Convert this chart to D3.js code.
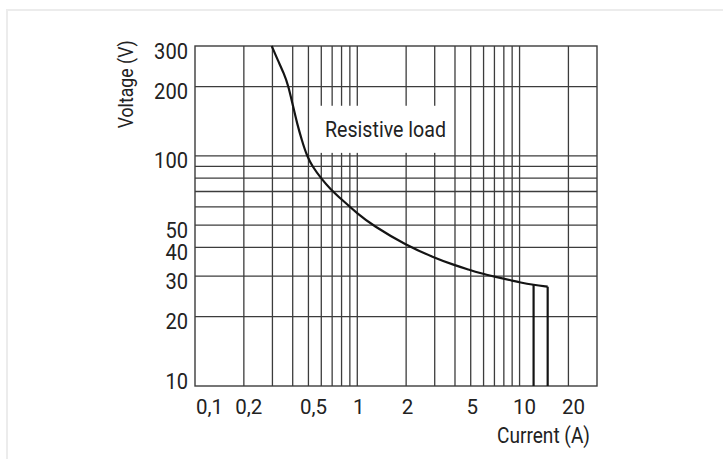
<!DOCTYPE html>
<html>
<head>
<meta charset="utf-8">
<script src="https://cdn.jsdelivr.net/npm/d3@7"></script>
<style>
  html, body { margin: 0; padding: 0; background: #fff; }
  svg { display: block; }
  text { font-family: Roboto, "Liberation Sans", sans-serif; fill: #222; }
</style>
</head>
<body>
<svg id="chart" width="723" height="459"></svg>
<script>
// ---- data ----
const curveCurrent = [0.297, 0.324, 0.353, 0.375, 0.403, 0.426, 0.455, 0.489, 0.53, 0.604, 0.676, 0.816, 1.0, 1.246, 2.0, 2.95, 3.97, 4.89, 5.63, 7.13, 9.01, 10.0, 12.2, 14.9];
const curveVoltage = [300, 260, 228, 203, 163, 138, 117, 100, 89.6, 79.2, 72.2, 63.8, 56.2, 49.8, 40.9, 36.2, 33.5, 32.0, 31.0, 29.8, 28.7, 28.2, 27.5, 27.0];
const dropIndex = [22, 23];              // curve points from which vertical limits drop to the axis
const xGridValues = [0.2, 0.3, 0.4, 0.5, 0.6, 0.7, 0.8, 0.9, 1, 2, 3, 4, 5, 6, 7, 8, 9, 10, 20];
const yGridValues = [20, 30, 40, 50, 60, 70, 80, 90, 100, 200];
const xTickValues = [0.1, 0.2, 0.5, 1, 2, 5, 10, 20];
const xTickLabels = ["0,1", "0,2", "0,5", "1", "2", "5", "10", "20"];
const yTickValues = [300, 200, 100, 50, 40, 30, 20, 10];
const yTickLabels = ["300", "200", "100", "50", "40", "30", "20", "10"];
const xDomain = [0.1, 30];
const yDomain = [10, 300];
const annotation = "Resistive load";
const xTitle = "Current (A)";
const yTitle = "Voltage (V)";

// ---- layout ----
const L = 195, R = 597, T = 46, B = 386;
const svg = d3.select("#chart");
const x = d3.scaleLog().domain(xDomain).range([L, R]);
const y = d3.scaleLog().domain(yDomain).range([B, T]);
const gridColor = "#3c3c3c";

// outer faint frame
svg.append("rect").attr("x", 7).attr("y", 10).attr("width", 740).attr("height", 470)
  .attr("fill", "none").attr("stroke", "#ececec").attr("stroke-width", 2);

// grid
const g = svg.append("g");
g.selectAll("line.vg").data(xGridValues).join("line")
  .attr("x1", d => x(d)).attr("x2", d => x(d)).attr("y1", T).attr("y2", B)
  .attr("stroke", gridColor).attr("stroke-width", 1.3);
g.selectAll("line.hg").data(yGridValues).join("line")
  .attr("y1", d => y(d)).attr("y2", d => y(d)).attr("x1", L).attr("x2", R)
  .attr("stroke", gridColor).attr("stroke-width", 1.3);
g.append("rect").attr("x", L).attr("y", T).attr("width", R - L).attr("height", B - T)
  .attr("fill", "none").attr("stroke", gridColor).attr("stroke-width", 1.4);

// annotation box (interrupts grid lines)
const boxX0 = x(0.55), boxX1 = x(3.7);
const boxY0 = y(165), boxY1 = y(103);
svg.append("rect").attr("x", boxX0).attr("y", boxY0)
  .attr("width", boxX1 - boxX0).attr("height", boxY1 - boxY0).attr("fill", "#fff");
svg.append("text").attr("x", 325).attr("y", 136.7)
  .attr("font-size", 22.5).attr("textLength", 121).attr("lengthAdjust", "spacingAndGlyphs")
  .text(annotation);

// curve
const pts = curveCurrent.map((c, i) => [x(c), y(curveVoltage[i])]);
svg.append("path").attr("d", d3.line().curve(d3.curveBasis)(pts))
  .attr("fill", "none").attr("stroke", "#141414").attr("stroke-width", 2.2)
  .attr("stroke-linejoin", "round");
svg.selectAll("line.drop").data(dropIndex).join("line")
  .attr("x1", i => x(curveCurrent[i])).attr("x2", i => x(curveCurrent[i]))
  .attr("y1", i => y(curveVoltage[i])).attr("y2", y(yDomain[0]))
  .attr("stroke", "#141414").attr("stroke-width", 2.2);

// y tick labels
svg.selectAll("text.yl").data(yTickValues).join("text")
  .attr("x", 188).attr("y", d => Math.min(y(d) + 12.5, B + 2.5))
  .attr("text-anchor", "end").attr("font-size", 21.5)
  .attr("textLength", (d, i) => yTickLabels[i].length * 11.3)
  .attr("lengthAdjust", "spacingAndGlyphs")
  .text((d, i) => yTickLabels[i]);

// x tick labels
svg.selectAll("text.xl").data(xTickValues).join("text")
  .attr("x", (d, i) => Math.max(x(d) + (xTickLabels[i].length > 1 ? 5 : 1.5), L + 14.5))
  .attr("y", 413.5).attr("text-anchor", "middle").attr("font-size", 20.5)
  .text((d, i) => xTickLabels[i]);

// axis titles
svg.append("text").attr("x", 590).attr("y", 442.5).attr("text-anchor", "end")
  .attr("font-size", 21.5).attr("textLength", 93).attr("lengthAdjust", "spacingAndGlyphs")
  .text(xTitle);
svg.append("text").attr("transform", "translate(132.5,128.3) rotate(-90)")
  .attr("font-size", 20).attr("textLength", 88).attr("lengthAdjust", "spacingAndGlyphs")
  .text(yTitle);
</script>
</body>
</html>
